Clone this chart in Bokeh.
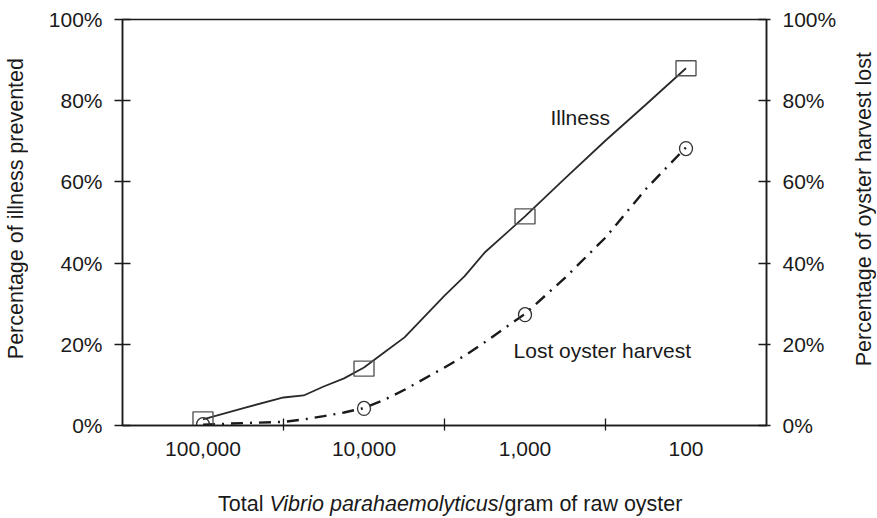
import math
from bokeh.plotting import figure
from bokeh.models import (Range1d, FixedTicker, NumeralTickFormatter, PrintfTickFormatter,
                          LinearAxis, Label, Div)
from bokeh.layouts import column, row
from bokeh.embed import file_html
from bokeh.resources import INLINE

# ---- data ----
count_per_gram = [100000, 56000, 31600, 23700, 17800, 13300, 10000, 7500, 5600,
                  3160, 2370, 1780, 1000, 560, 316, 178, 100]
illness_prevented = [1.5, 4.3, 6.9, 7.4, 9.6, 11.6, 14.3, 18.0, 21.7,
                     32.0, 36.8, 42.6, 51.5, 61.0, 70.2, 79.0, 88.0]
harvest_lost = [0.2, 0.6, 0.9, 1.5, 2.3, 3.2, 4.3, 6.3, 8.8,
                14.3, 17.2, 20.5, 27.5, 36.5, 46.3, 58.2, 68.5]

marker_counts = [100000, 10000, 1000, 100]
illness_markers = [1.5, 14.0, 51.5, 88.0]
harvest_markers = [0.2, 4.2, 27.3, 68.2]

x_tick_values = [100000, 10000, 1000, 100]
x_minor_ticks = [31623, 3162, 316]
y_tick_values = [0, 20, 40, 60, 80, 100]

left_title = "Percentage of illness prevented"
right_title = "Percentage of oyster harvest lost"

FONT = "Liberation Sans"
INK = "#1a1a1a"

p = figure(width=818, height=492, x_axis_type="log",
           x_range=Range1d(10 ** 5.5, 10 ** 1.5), y_range=Range1d(0, 100),
           output_backend="svg", toolbar_location=None,
           min_border_left=90, min_border_right=84,
           min_border_top=19, min_border_bottom=67)
p.background_fill_color = "white"
p.border_fill_color = "white"
p.outline_line_color = INK
p.outline_line_width = 1.5
p.xgrid.visible = False
p.ygrid.visible = False

# bottom axis
xa = p.xaxis[0]
xa.ticker = FixedTicker(ticks=x_tick_values, minor_ticks=x_minor_ticks)
xa.formatter = NumeralTickFormatter(format="0,0")
xa.major_tick_in = 0
xa.major_tick_out = 0
xa.minor_tick_in = 7
xa.minor_tick_out = 5
xa.minor_tick_line_color = INK
xa.minor_tick_line_width = 1.3
xa.axis_line_color = INK
xa.axis_line_width = 1.5
xa.major_label_text_font = FONT
xa.major_label_text_font_size = "21px"
xa.major_label_text_color = INK
xa.major_label_standoff = 11

# left axis
ya = p.yaxis[0]
ya.ticker = FixedTicker(ticks=y_tick_values)
ya.formatter = PrintfTickFormatter(format="%d%%")
ya.major_tick_in = 8
ya.major_tick_out = 8
ya.minor_tick_line_color = None
ya.major_tick_line_color = INK
ya.major_tick_line_width = 1.3
ya.axis_line_color = INK
ya.axis_line_width = 1.5
ya.major_label_text_font = FONT
ya.major_label_text_font_size = "21px"
ya.major_label_text_color = INK
ya.major_label_standoff = 12

# right axis
ra = LinearAxis(ticker=FixedTicker(ticks=y_tick_values),
                formatter=PrintfTickFormatter(format="%d%%"))
ra.major_tick_in = 8
ra.major_tick_out = 4
ra.minor_tick_line_color = None
ra.major_tick_line_color = INK
ra.major_tick_line_width = 1.3
ra.axis_line_color = INK
ra.axis_line_width = 1.5
ra.major_label_text_font = FONT
ra.major_label_text_font_size = "21px"
ra.major_label_text_color = INK
ra.major_label_standoff = 12
p.add_layout(ra, "right")

# lines
p.line(count_per_gram, illness_prevented, line_color="#2a2a2a", line_width=1.8)
p.line(count_per_gram, harvest_lost, line_color="#1a1a1a", line_width=2.4,
       line_dash="12 7 2 7")

# markers
p.rect(marker_counts, illness_markers, width=20, height=15,
       width_units="screen", height_units="screen",
       fill_color=None, line_color="#555555", line_width=1.4)
p.ellipse(marker_counts, harvest_markers, width=13, height=14,
          width_units="screen", height_units="screen",
          fill_color=None, line_color="#333333", line_width=1.3)

def lab(x, y, text, **kw):
    opts = dict(text_font=FONT, text_font_size="21px", text_color=INK)
    opts.update(kw)
    p.add_layout(Label(x=x, y=y, text=text, **opts))

# in-plot series labels
lab(10 ** 2.842, 75.9, "Illness", text_align="left", text_baseline="middle")
lab(10 ** 3.071, 18.5, "Lost oyster harvest", text_align="left", text_baseline="middle")

# x-axis title with italic species name (HTML text below the figure)
x_title = Div(
    text=('<div style="font-family:\'Liberation Sans\';font-size:21.5px;color:#1a1a1a;'
          'padding-left:186px;white-space:nowrap;line-height:24px;">'
          'Total <i>Vibrio parahaemolyticus</i>/gram of raw oyster</div>'),
    width=818, height=26, margin=(0, 0, 0, 0))

def vertical_title(text, w):
    return Div(
        text=('<div style="height:418px;width:%dpx;display:flex;align-items:center;'
              'justify-content:center;">'
              '<span style="writing-mode:vertical-rl;transform:rotate(180deg);'
              'font-family:\'Liberation Sans\';font-size:21.5px;color:#1a1a1a;'
              'white-space:nowrap;line-height:24px;">%s</span></div>') % (w, text),
        width=w, height=492, margin=(0, 0, 0, 0))

left_div = vertical_title(left_title, 32)
right_div = vertical_title(right_title, 27)

layout = row(left_div, column(p, x_title, spacing=0), right_div, spacing=0)
open("out.html", "w").write(file_html(layout, INLINE))
